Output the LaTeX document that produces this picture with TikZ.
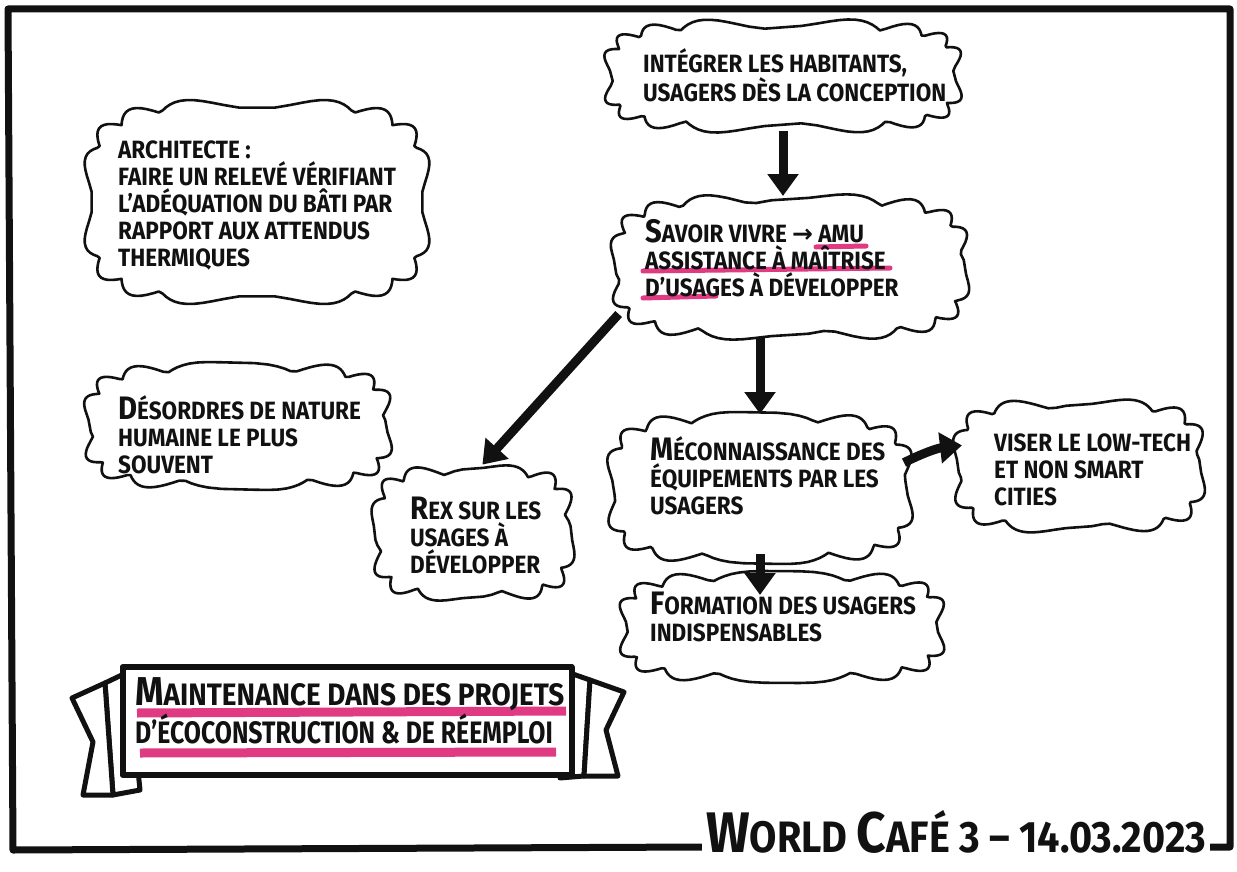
\documentclass[tikz,border=0pt]{standalone}
\usepackage{fontspec}
\setmainfont{Fira Sans}[FakeStretch=0.9]
\newfontfamily\symbfont{DejaVu Sans}
\usetikzlibrary{arrows.meta,positioning}
\definecolor{ink}{HTML}{111111}
\definecolor{marker}{HTML}{E03A82}
\newcommand\initcap[1]{\scalebox{1.3}{#1}}
% bumpy outline round a named box: name, half width, half height, bumps, phase
\newcommand\cloudy[5]{\draw[cl,shift={(#1.center)}] plot[domain=1:361,samples=181,variable=\t] ({(#2+10*abs(sin(#4*\t+#5)))*cos(\t)/abs(cos(\t))^0.45},{(#3+10*abs(sin(#4*\t+#5)))*sin(\t)/abs(sin(\t))^0.45}) -- cycle;}

\begin{document}
\begin{tikzpicture}[x=1pt,y=-1pt,line join=round, box/.style={inner sep=0pt,outer sep=0pt}, cl/.style={draw=ink,line width=2.6pt,fill=white}, tx/.style={font=\bfseries\fontsize{25}{27}\selectfont,align=left,inner sep=0pt,anchor=west,text=ink}, ar/.style={-{Triangle[length=22pt,width=30pt]},line width=9pt,draw=ink}, hl/.style={draw=marker,line width=5pt,line cap=round}]
\useasboundingbox (0,0) rectangle (1237,872);
% frame and date
\node[font=\bfseries\fontsize{44}{44}\selectfont,inner sep=4pt,text=ink] (world) at (956,832) {\initcap{W}ORLD \initcap{C}AFÉ 3 – 14.03.2023};
\draw[ink,line width=7pt] (world.east |- 0,847) -- (1230,847) -- (1230,9) -- (8,9) -- (13,850) -- (world.west |- 0,847);
% clouds
\node[box,minimum width=328,minimum height=186] (archi) at (257,202) {};
\node[box,minimum width=290,minimum height=108] (desord) at (238,426) {};
\node[box,minimum width=340,minimum height=94] (integ) at (783,76) {};
\node[box,minimum width=340,minimum height=126] (savoir) at (790,267) {};
\node[box,minimum width=288,minimum height=132] (mecon) at (760,488) {};
\node[box,minimum width=234,minimum height=114] (viser) at (1079,466) {};
\node[box,minimum width=308,minimum height=92] (form) at (782,627) {};
\node[box,minimum width=184,minimum height=116] (rex) at (473,533) {};
\cloudy{archi}{164}{93}{8}{0}
\cloudy{desord}{145}{54}{7}{20}
\cloudy{integ}{170}{47}{8}{10}
\cloudy{savoir}{170}{63}{8}{30}
\cloudy{mecon}{144}{66}{7}{15}
\cloudy{viser}{117}{57}{6}{25}
\cloudy{form}{154}{46}{7}{5}
\cloudy{rex}{92}{58}{6}{40}
\draw[hl] (816,247) -- (866,246);
\draw[hl] (643,271) -- (890,268);
\draw[hl] (643,298) -- (716,296);
\node[tx] (architxt) at (118,205) {ARCHITECTE :\\FAIRE UN RELEVÉ VÉRIFIANT\\L'ADÉQUATION DU BÂTI PAR\\RAPPORT AUX ATTENDUS\\THERMIQUES};
\node[tx] (desordtxt) at (118,435) {\initcap{D}ÉSORDRES DE NATURE\\HUMAINE LE PLUS\\SOUVENT};
\node[tx] (integtxt) at (643,75) {INTÉGRER LES HABITANTS,\\USAGERS DÈS LA CONCEPTION};
\node[tx] (savoirtxt) at (645,258) {\initcap{S}AVOIR VIVRE {\symbfont\bfseries →} AMU\\ASSISTANCE À MAÎTRISE\\D'USAGES À DÉVELOPPER};
\node[tx] (mecontxt) at (650,476) {\initcap{M}ÉCONNAISSANCE DES\\ÉQUIPEMENTS PAR LES\\USAGERS};
\node[tx] (visertxt) at (994,470) {VISER LE LOW-TECH\\ET NON SMART\\CITIES};
\node[tx] (formtxt) at (650,617) {\initcap{F}ORMATION DES USAGERS\\INDISPENSABLES};
\node[tx] (rextxt) at (410,535) {\initcap{R}EX SUR LES\\USAGES À\\DÉVELOPPER};
% arrows
\draw[ar,shorten <=8pt,shorten >=8pt] (integ.south) -- (integ.south |- savoir.north);
\draw[ar,shorten <=2pt,shorten >=14pt] (savoir.195) -- (rex.north);
\draw[ar,shorten <=7pt,shorten >=8pt] (mecon.north |- savoir.south) -- (mecon.north);
\draw[ar] (mecon.10) to[bend left=10] (viser.170);
\draw[ar,shorten >=-14pt] (mecon.south) -- (mecon.south |- form.north);
% banner
\draw[ink,line width=5pt,fill=white] (105,683) -- (128,672) -- (140,790) -- (113,795) -- cycle;
\draw[ink,line width=5pt,fill=white] (72,698) -- (105,683) -- (113,795) -- (83,795) -- (93,742) -- cycle;
\draw[ink,line width=5pt,fill=white] (590,680) -- (567,672) -- (560,778) -- (584,776) -- cycle;
\draw[ink,line width=5pt,fill=white] (624,692) -- (590,680) -- (584,776) -- (618,776) -- (606,730) -- cycle;
\node[draw=ink,line width=6pt,fill=white,minimum width=449,minimum height=108,inner sep=0pt] (banner) at (347,721) {};
\draw[marker,line width=9pt] (137,713) -- (566,711);
\draw[marker,line width=9pt] (140,753) -- (556,752);
\node[tx,font=\bfseries\fontsize{31}{38}\selectfont] (bannertxt) at (135,711) {\initcap{M}AINTENANCE DANS DES PROJETS\\\scalebox{0.89}[1]{D'ÉCOCONSTRUCTION \& DE RÉEMPLOI}};
\end{tikzpicture}
\end{document}
